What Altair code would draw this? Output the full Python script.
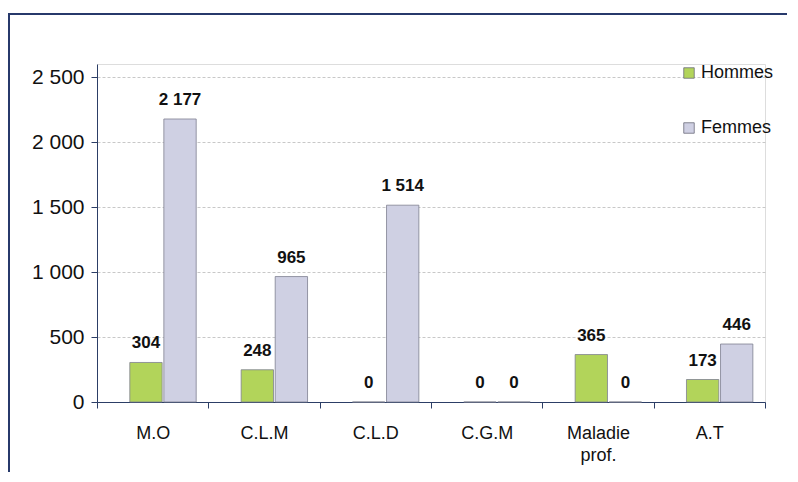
import altair as alt
import pandas as pd

categories = ["M.O", "C.L.M", "C.L.D", "C.G.M", "Maladie prof.", "A.T"]
hommes = [304, 248, 0, 0, 365, 173]
femmes = [2177, 965, 1514, 0, 0, 446]
series = ["Hommes", "Femmes"]
colors = ["#b2d45a", "#cfd0e3"]
y_ticks = [0, 500, 1000, 1500, 2000, 2500]

rows = []
for c, h, f in zip(categories, hommes, femmes):
    rows.append({"cat": c, "serie": "Hommes", "val": h})
    rows.append({"cat": c, "serie": "Femmes", "val": f})
df = pd.DataFrame(rows)

W, H = 668, 338
FONT = "Liberation Sans"

base = alt.Chart(df).encode(
    x=alt.X("cat:N", sort=categories, title=None,
            scale=alt.Scale(paddingInner=0, paddingOuter=0),
            axis=alt.Axis(labelAngle=0, tickBand="extent", domainColor="#2c3e66",
                          tickColor="#2c3e66", tickSize=6, labelPadding=16,
                          labelFontSize=18, labelColor="#111", labelFont=FONT,
                          labelExpr="datum.label == 'Maladie prof.' ? ['Maladie', 'prof.'] : datum.label",
                          labelLineHeight=22)),
    xOffset=alt.XOffset("serie:N", sort=series,
                        scale=alt.Scale(paddingInner=0.05, paddingOuter=0.66, align=0.73)),
)

bars = base.mark_bar(stroke="#7f8090", strokeWidth=0.8).encode(
    y=alt.Y("val:Q", title=None,
            scale=alt.Scale(domain=[0, 2500]),
            axis=alt.Axis(values=y_ticks, domainColor="#2c3e66", tickColor="#2c3e66",
                          tickSize=6, labelPadding=7, labelFontSize=21,
                          labelColor="#111", labelFont=FONT,
                          gridColor="#c8c8c8", gridDash=[3, 2],
                          labelExpr="replace(format(datum.value, ','), ',', ' ')")),
    color=alt.Color("serie:N", sort=series,
                    scale=alt.Scale(domain=series, range=colors),
                    legend=alt.Legend(title=None, orient="none", legendX=583, legendY=0,
                                      symbolType="square", symbolSize=110,
                                      symbolStrokeColor="#6a6a7a", symbolStrokeWidth=0.8,
                                      labelFontSize=18, labelFont=FONT, labelColor="#111",
                                      rowPadding=37, labelOffset=3)),
)

labels = base.mark_text(dy=-10, baseline="bottom", fontSize=17, fontWeight="bold",
                        font=FONT, color="#111").encode(
    y=alt.Y("val:Q"),
    text=alt.Text("lbl:N"),
).transform_calculate(lbl="replace(format(datum.val, ','), ',', ' ')")

frame = alt.Chart(pd.DataFrame({"a": [0]})).mark_rect(
    fill=None, stroke="#27396b", strokeWidth=2, clip=False
).encode(x=alt.value(-88), x2=alt.value(W + 80), y=alt.value(-50), y2=alt.value(H + 140))

chart = alt.layer(frame, bars, labels).properties(
    width=W, height=H,
    padding={"left": 89, "top": 56, "right": 22, "bottom": 70},
    autosize=alt.AutoSizeParams(type="none"),
).configure_view(stroke=None).configure(background="white")

chart.save("out.html", embed_options={"renderer": "svg", "actions": False})
